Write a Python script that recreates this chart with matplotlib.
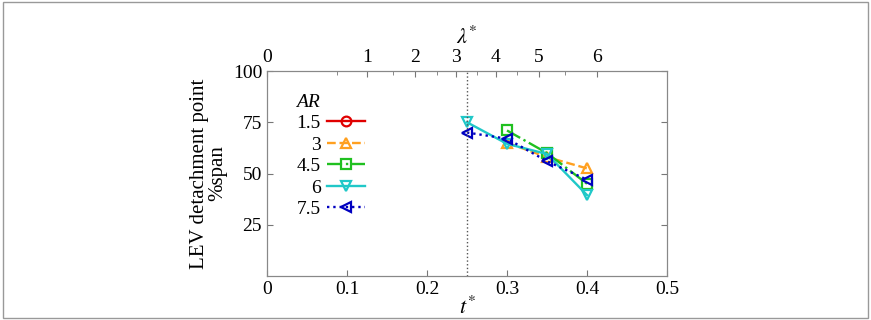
import numpy as np
from matplotlib import pyplot as plt
from matplotlib.patches import Rectangle

plt.rcParams['font.family'] = ['Liberation Serif', 'DejaVu Serif']
plt.rcParams['mathtext.fontset'] = 'stix'

# dados
t_star = [0.25, 0.30, 0.35, 0.40]
ar_labels = ['1.5', '3', '4.5', '6', '7.5']
ar_15 = [np.nan, np.nan, np.nan, np.nan]
ar_3 = [np.nan, 65, 58, 52.5]
ar_45 = [np.nan, 71, 60, 45]
ar_6 = [75, 64.5, 59.5, 39.5]
ar_75 = [70, 67, 56, 47]

# eixo superior lambda* (posicoes em t*)
lam_major = [0, 1, 2, 3, 4, 5, 6]
lam_major_t = [0.0, 0.125, 0.185, 0.236, 0.286, 0.34, 0.4125]
lam_minor_t = [0.0875, 0.1575, 0.2125, 0.2625, 0.3125, 0.3725]

cores = ['#e00000', '#ffa020', '#20c020', '#20c8c8', '#0000c0']
estilos = ['-', '--', '-.', '-', ':']
marcadores = ['o', '^', 's', 'v', '<']
series = [ar_15, ar_3, ar_45, ar_6, ar_75]

fig = plt.figure(figsize=(8.71, 3.2), dpi=100)
ax = fig.add_axes([0.3065, 0.1375, 0.4593, 0.6405])

for s, lab, c, ls, mk in zip(series, ar_labels, cores, estilos, marcadores):
    ax.plot(t_star, s, linestyle=ls, color=c, marker=mk, markersize=7,
            markerfacecolor='none', markeredgewidth=1.6, linewidth=1.7, label=lab)

ax.axvline(0.25, color='#555555', linestyle=':', linewidth=1.0)

ax.set_xlim(0, 0.5)
ax.set_ylim(0, 100)
ax.set_xticks([0, 0.1, 0.2, 0.3, 0.4, 0.5])
ax.set_xticklabels(['0', '0.1', '0.2', '0.3', '0.4', '0.5'])
ax.set_yticks([25, 50, 75, 100])
ax.tick_params(direction='in', right=True, labelsize=14, length=4, color='#777777')
for sp in ax.spines.values():
    sp.set_color('#888888')
ax.set_xlabel('$t^{*}$', fontsize=16, labelpad=-1)
ax.set_ylabel('LEV detachment point\n%span', fontsize=15, linespacing=0.95)

ax2 = ax.twiny()
ax2.set_xlim(ax.get_xlim())
ax2.set_xticks(lam_major_t)
ax2.set_xticklabels([str(v) for v in lam_major])
ax2.set_xticks(lam_minor_t, minor=True)
ax2.tick_params(which='both', direction='in', labelsize=14, length=4, color='#777777')
ax2.tick_params(which='minor', length=3)
for sp in ax2.spines.values():
    sp.set_color('#888888')
ax2.set_xlabel('$\\lambda^{*}$', fontsize=16, labelpad=4)

leg = ax.legend(loc='upper left', bbox_to_anchor=(0.03, 0.975), frameon=False,
                markerfirst=False, fontsize=14, title='AR', alignment='left',
                handlelength=2.0, labelspacing=0.2, handletextpad=0.3)
leg.get_title().set_fontsize(14)
leg.get_title().set_fontstyle('italic')

fig.patches.append(Rectangle((0.004, 0.006), 0.992, 0.988, transform=fig.transFigure,
                             fill=False, edgecolor='#999999', linewidth=1.0))

fig.savefig('out.png', dpi=100)
